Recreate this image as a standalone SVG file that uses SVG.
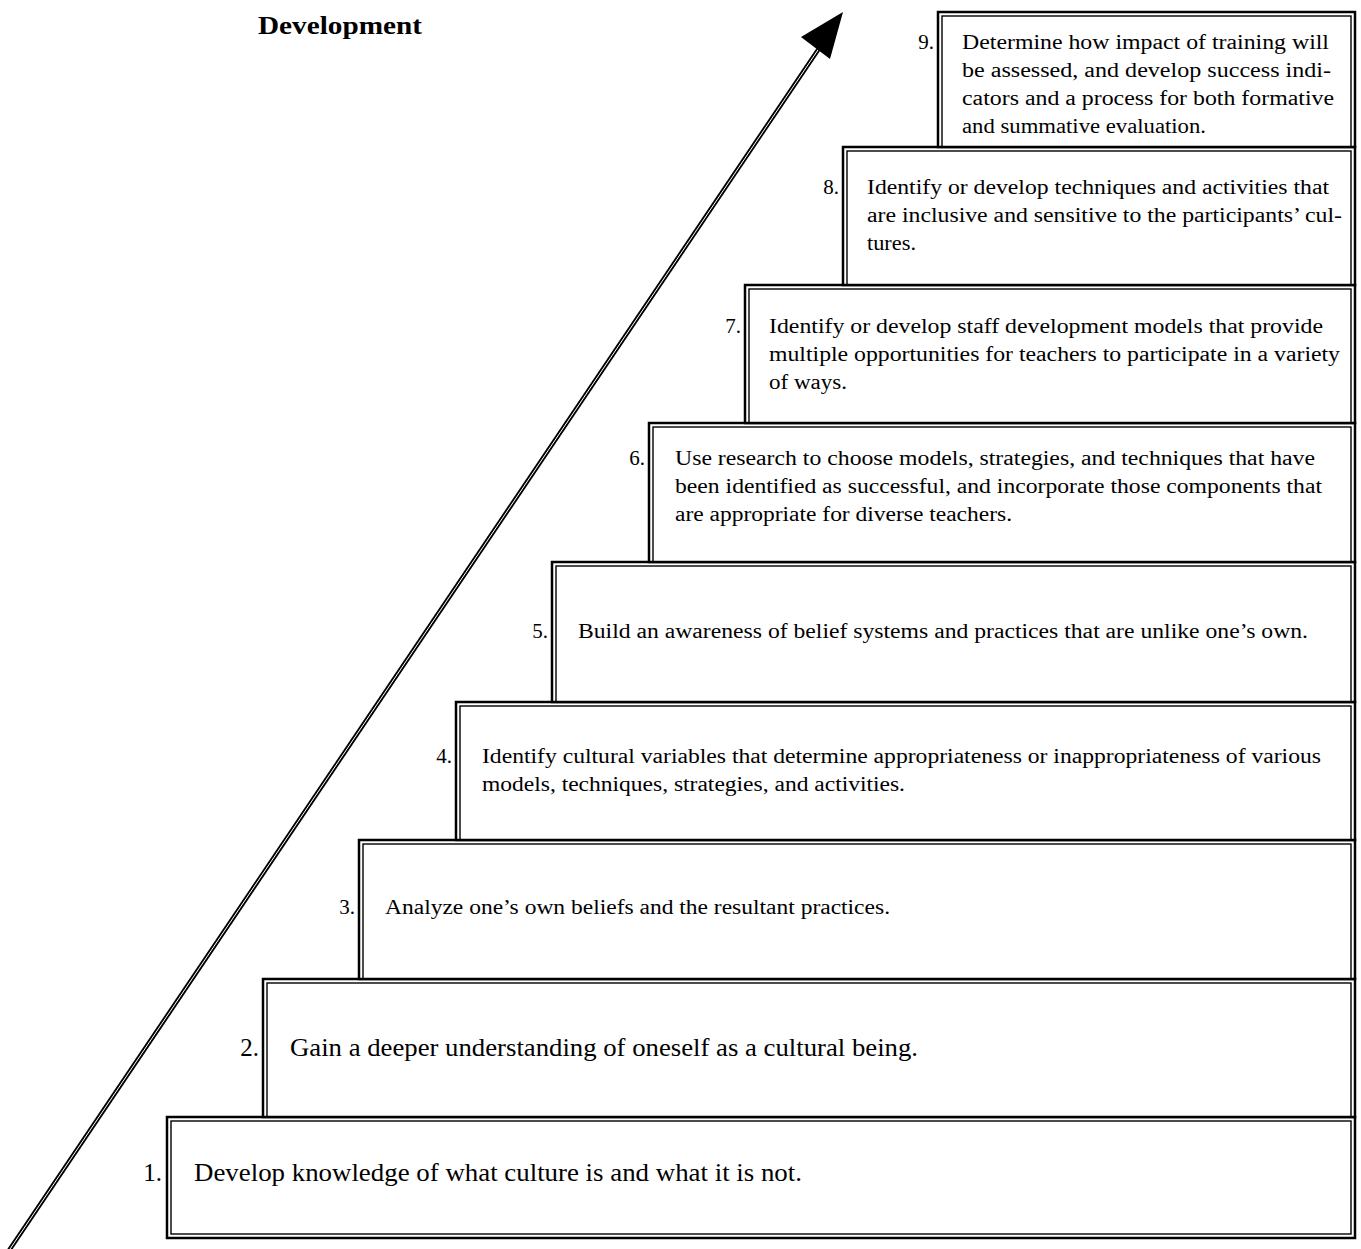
<svg xmlns="http://www.w3.org/2000/svg" width="1361" height="1249" viewBox="0 0 1361 1249">
<style>
.o{fill:#fff;stroke:#000;stroke-width:2.5}
.i{fill:none;stroke:#000;stroke-width:1.4}
.t{font-family:"Liberation Serif","Times New Roman",serif;font-size:20px;fill:#000}
.b{font-size:25px}
.n{text-anchor:end;font-size:21px}
.b.n{font-size:25px}
</style>
<rect width="1361" height="1249" fill="#fff"/>
<text x="258" y="34" textLength="164" lengthAdjust="spacingAndGlyphs" style="font-family:'Liberation Serif',serif;font-size:26px;font-weight:bold">Development</text>
<g id="arrow">
<line x1="8" y1="1252" x2="822" y2="44" stroke="#000" stroke-width="4.5"/>
<line x1="8" y1="1252" x2="822" y2="44" stroke="#fff" stroke-width="1"/>
<polygon points="843,12 801,37 830,59" fill="#000"/>
</g>
<g id="step1"><rect class="o" x="167" y="1117" width="1188" height="121"/><rect class="i" x="171" y="1121" width="1180" height="113"/>
<text class="t b n" x="162" y="1181">1.</text><text class="t b" x="194" y="1181" textLength="608" lengthAdjust="spacingAndGlyphs">Develop knowledge of what culture is and what it is not.</text></g>
<g id="step2"><rect class="o" x="263" y="979" width="1092" height="138"/><rect class="i" x="267" y="983" width="1084" height="134"/>
<text class="t b n" x="259" y="1056">2.</text><text class="t b" x="290" y="1056" textLength="628" lengthAdjust="spacingAndGlyphs">Gain a deeper understanding of oneself as a cultural being.</text></g>
<g id="step3"><rect class="o" x="359" y="840" width="996" height="139"/><rect class="i" x="363" y="844" width="988" height="135"/>
<text class="t n" x="355" y="914">3.</text><text class="t" x="385" y="914" textLength="505" lengthAdjust="spacingAndGlyphs">Analyze one’s own beliefs and the resultant practices.</text></g>
<g id="step4"><rect class="o" x="456" y="702" width="899" height="138"/><rect class="i" x="460" y="706" width="891" height="134"/>
<text class="t n" x="452" y="763">4.</text><text class="t" x="482" y="763" textLength="839" lengthAdjust="spacingAndGlyphs">Identify cultural variables that determine appropriateness or inappropriateness of various</text><text class="t" x="482" y="791" textLength="423" lengthAdjust="spacingAndGlyphs">models, techniques, strategies, and activities.</text></g>
<g id="step5"><rect class="o" x="552" y="562" width="803" height="140"/><rect class="i" x="556" y="566" width="795" height="136"/>
<text class="t n" x="548" y="638">5.</text><text class="t" x="578" y="638" textLength="730" lengthAdjust="spacingAndGlyphs">Build an awareness of belief systems and practices that are unlike one’s own.</text></g>
<g id="step6"><rect class="o" x="649" y="423" width="706" height="139"/><rect class="i" x="653" y="427" width="698" height="135"/>
<text class="t n" x="645" y="465">6.</text><text class="t" x="675" y="465" textLength="640" lengthAdjust="spacingAndGlyphs">Use research to choose models, strategies, and techniques that have</text><text class="t" x="675" y="493" textLength="647" lengthAdjust="spacingAndGlyphs">been identified as successful, and incorporate those components that</text><text class="t" x="675" y="521" textLength="337" lengthAdjust="spacingAndGlyphs">are appropriate for diverse teachers.</text></g>
<g id="step7"><rect class="o" x="745" y="285" width="610" height="138"/><rect class="i" x="749" y="289" width="602" height="134"/>
<text class="t n" x="741" y="333">7.</text><text class="t" x="769" y="333" textLength="554" lengthAdjust="spacingAndGlyphs">Identify or develop staff development models that provide</text><text class="t" x="769" y="361" textLength="571" lengthAdjust="spacingAndGlyphs">multiple opportunities for teachers to participate in a variety</text><text class="t" x="769" y="389" textLength="78" lengthAdjust="spacingAndGlyphs">of ways.</text></g>
<g id="step8"><rect class="o" x="843" y="147" width="512" height="138"/><rect class="i" x="847" y="151" width="504" height="134"/>
<text class="t n" x="839" y="194">8.</text><text class="t" x="867" y="194" textLength="462" lengthAdjust="spacingAndGlyphs">Identify or develop techniques and activities that</text><text class="t" x="867" y="222" textLength="475" lengthAdjust="spacingAndGlyphs">are inclusive and sensitive to the participants’ cul-</text><text class="t" x="867" y="250" textLength="49" lengthAdjust="spacingAndGlyphs">tures.</text></g>
<g id="step9"><rect class="o" x="938" y="12" width="417" height="135"/><rect class="i" x="942" y="16" width="409" height="131"/>
<text class="t n" x="934" y="49">9.</text><text class="t" x="962" y="49" textLength="367" lengthAdjust="spacingAndGlyphs">Determine how impact of training will</text><text class="t" x="962" y="77" textLength="369" lengthAdjust="spacingAndGlyphs">be assessed, and develop success indi-</text><text class="t" x="962" y="105" textLength="372" lengthAdjust="spacingAndGlyphs">cators and a process for both formative</text><text class="t" x="962" y="133" textLength="244" lengthAdjust="spacingAndGlyphs">and summative evaluation.</text></g>
</svg>
